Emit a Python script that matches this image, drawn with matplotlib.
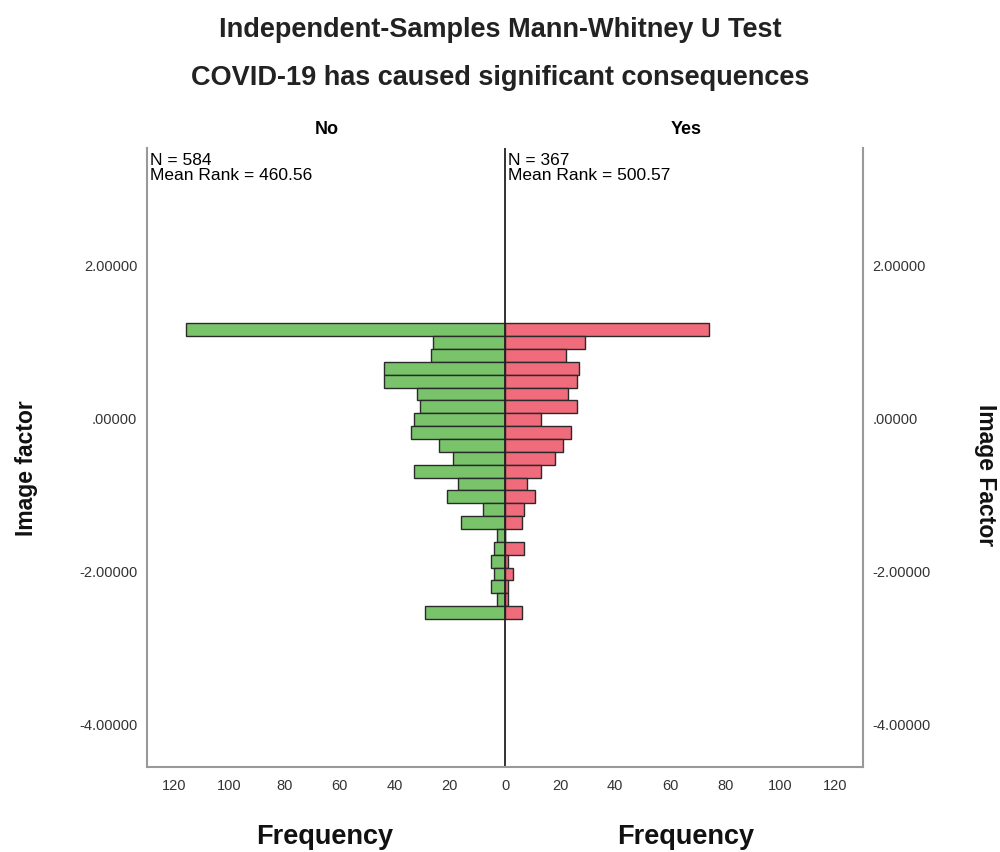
import matplotlib.pyplot as plt
import numpy as np

plt.rcParams['font.family'] = ['Liberation Sans', 'DejaVu Sans']

# bin centres of the Image factor histogram (top to bottom)
bin_centres = [1.154, 0.986, 0.818, 0.650, 0.482, 0.314, 0.146, -0.022,
               -0.190, -0.358, -0.526, -0.694, -0.862, -1.030, -1.198,
               -1.366, -1.534, -1.702, -1.870, -2.038, -2.206, -2.374, -2.542]
bin_height = 0.168

freq_no = [116, 26, 27, 44, 44, 32, 31, 33, 34, 24, 19, 33, 17, 21, 8, 16,
           3, 4, 5, 4, 5, 3, 29]
freq_yes = [74, 29, 22, 27, 26, 23, 26, 13, 24, 21, 18, 13, 8, 11, 7, 6,
            0, 7, 1, 3, 1, 1, 6]

x_ticks = [-120, -100, -80, -60, -40, -20, 0, 20, 40, 60, 80, 100, 120]
y_ticks = [2, 0, -2, -4]
y_labels = ['2.00000', '.00000', '-2.00000', '-4.00000']

green = '#79c36b'
red = '#f06b7b'

fig = plt.figure(figsize=(10, 8.52), dpi=100)
ax = fig.add_axes([0.147, 0.0998, 0.716, 0.7265])

ax.barh(bin_centres, -np.array(freq_no), height=bin_height, color=green,
        edgecolor='#2a2a2a', linewidth=1.0)
ax.barh(bin_centres, freq_yes, height=bin_height, color=red,
        edgecolor='#2a2a2a', linewidth=1.0)
ax.axvline(0, color='#222222', linewidth=1.3)

ax.set_xlim(-130, 130)
ax.set_ylim(-4.56, 3.53)

for s in ['left', 'right', 'bottom']:
    ax.spines[s].set_color('#999999')
    ax.spines[s].set_linewidth(1.5)
ax.spines['top'].set_visible(False)

ax.set_xticks(x_ticks)
ax.set_xticklabels([str(abs(v)) for v in x_ticks], fontsize=10.5, color='#333333')
ax.set_yticks(y_ticks)
ax.set_yticklabels(y_labels, fontsize=10.5, color='#333333')
ax.tick_params(axis='x', length=0, pad=9)
ax.tick_params(axis='y', length=0, pad=7, labelright=True, right=False)

fig.text(0.027, 0.451, 'Image factor', rotation=90, fontsize=16.5,
         fontweight='bold', ha='center', va='center', color='#111111')
fig.text(0.985, 0.443, 'Image Factor', rotation=270, fontsize=16.5,
         fontweight='bold', ha='center', va='center', color='#111111')

fig.text(0.5, 0.965, 'Independent-Samples Mann-Whitney U Test',
         ha='center', va='center', fontsize=19.5, fontweight='bold', color='#222222')
fig.text(0.5, 0.908, 'COVID-19 has caused significant consequences',
         ha='center', va='center', fontsize=19.5, fontweight='bold', color='#222222')

fig.text(0.327, 0.848, 'No', ha='center', va='center', fontsize=13, fontweight='bold')
fig.text(0.686, 0.848, 'Yes', ha='center', va='center', fontsize=13, fontweight='bold')

ax.text(-129, 3.46, 'N = 584\nMean Rank = 460.56', ha='left', va='top',
        fontsize=12.5, linespacing=1.0)
ax.text(1, 3.46, 'N = 367\nMean Rank = 500.57', ha='left', va='top',
        fontsize=12.5, linespacing=1.0)

fig.text(0.325, 0.018, 'Frequency', ha='center', va='center', fontsize=19.5,
         fontweight='bold', color='#111111')
fig.text(0.686, 0.018, 'Frequency', ha='center', va='center', fontsize=19.5,
         fontweight='bold', color='#111111')

fig.savefig('out.png', dpi=100)
